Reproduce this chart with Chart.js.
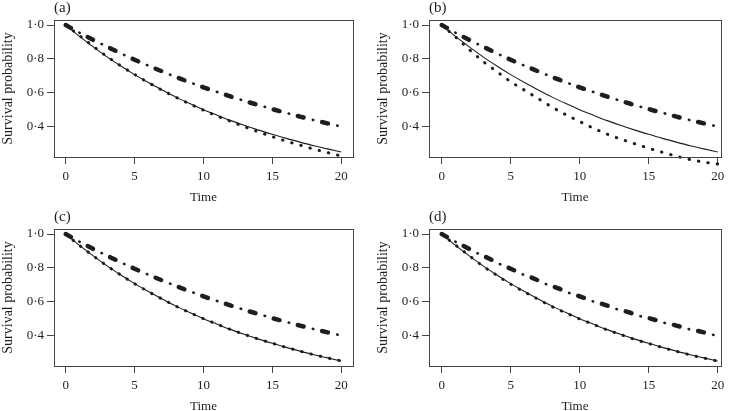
<!DOCTYPE html>
<html>
<head>
<meta charset="utf-8">
<script src="https://cdn.jsdelivr.net/npm/chart.js@4.4.0/dist/chart.umd.min.js"></script>
<style>
  html, body { margin: 0; padding: 0; background: #fff; overflow: hidden; width: 730px; height: 411px; }
  .panel { position: absolute; }
</style>
</head>
<body>
<script>
// ---------- data ----------
const time = [0,1,2,3,4,5,6,7,8,9,10,11,12,13,14,15,16,17,18,19,20];
const xTicks = [0,5,10,15,20];
const yTicks = [0.4,0.6,0.8,1.0];
const yTickLabels = ['0·4','0·6','0·8','1·0'];
const panelLabels = ['(a)','(b)','(c)','(d)'];

// true survival curves (same in every panel)
const trueLower = [1.000,0.933,0.871,0.812,0.758,0.707,0.660,0.616,0.574,0.536,0.500,0.467,0.435,0.406,0.379,0.354,0.330,0.308,0.287,0.268,0.250];
const trueUpper = [1.000,0.955,0.912,0.872,0.833,0.795,0.760,0.726,0.693,0.662,0.632,0.604,0.577,0.551,0.527,0.503,0.481,0.459,0.438,0.419,0.400];

// estimated curves, one per panel
const estLowerA = [1.000,0.938,0.874,0.814,0.759,0.708,0.660,0.615,0.573,0.534,0.497,0.462,0.430,0.398,0.368,0.340,0.314,0.290,0.267,0.246,0.226];
const estLowerB = [1.000,0.930,0.855,0.785,0.725,0.665,0.615,0.565,0.515,0.470,0.430,0.390,0.355,0.325,0.298,0.272,0.248,0.225,0.205,0.190,0.178];
const estLowerC = [1.000,0.933,0.871,0.812,0.758,0.707,0.660,0.616,0.574,0.536,0.500,0.467,0.435,0.406,0.379,0.354,0.330,0.308,0.287,0.268,0.250];
const estLowerD = [1.000,0.935,0.872,0.810,0.756,0.704,0.658,0.614,0.571,0.534,0.498,0.466,0.433,0.405,0.377,0.353,0.329,0.307,0.286,0.267,0.249];
const estUpperA = [1.000,0.955,0.912,0.872,0.833,0.795,0.760,0.726,0.693,0.662,0.632,0.604,0.577,0.551,0.527,0.503,0.481,0.459,0.438,0.419,0.400];
const estUpperB = [1.000,0.955,0.912,0.872,0.833,0.795,0.760,0.726,0.693,0.662,0.632,0.604,0.577,0.551,0.527,0.503,0.481,0.459,0.438,0.419,0.400];
const estUpperC = [1.000,0.955,0.912,0.872,0.833,0.795,0.760,0.726,0.693,0.662,0.632,0.604,0.577,0.551,0.527,0.503,0.481,0.459,0.438,0.419,0.400];
const estUpperD = [1.000,0.955,0.911,0.870,0.831,0.793,0.757,0.723,0.690,0.659,0.629,0.601,0.574,0.548,0.524,0.500,0.478,0.456,0.436,0.417,0.398];

// ---------- layout ----------
const panels = [
  { label: panelLabels[0], lower: estLowerA, upper: estUpperA, left: 0,   top: 0,   width: 365, padRight: 12, xMin: -0.85, xMax: 20.85 },
  { label: panelLabels[1], lower: estLowerB, upper: estUpperB, left: 375, top: 0,   width: 355, padRight: 9,  xMin: -0.92, xMax: 20.24 },
  { label: panelLabels[2], lower: estLowerC, upper: estUpperC, left: 0,   top: 209, width: 365, padRight: 12, xMin: -0.85, xMax: 20.85 },
  { label: panelLabels[3], lower: estLowerD, upper: estUpperD, left: 375, top: 209, width: 355, padRight: 9,  xMin: -0.92, xMax: 20.24 }
];
const H = 206;
const INK = '#1e1e1e';
const SERIF = "'Liberation Serif', 'DejaVu Serif', serif";

const boxPlugin = {
  id: 'boxAndLabel',
  afterDraw(chart, args, opts) {
    const { ctx, chartArea: a } = chart;
    ctx.save();
    ctx.strokeStyle = '#444';
    ctx.lineWidth = 1;
    ctx.strokeRect(Math.round(a.left) + 0.5, Math.round(a.top) + 0.5,
                   Math.round(a.right - a.left), Math.round(a.bottom - a.top));
    ctx.fillStyle = INK;
    ctx.font = '15px ' + SERIF;
    ctx.textAlign = 'left';
    ctx.textBaseline = 'alphabetic';
    ctx.fillText(opts.text, a.left, 12);
    ctx.restore();
  }
};

function pts(ys) { return time.map((t, i) => ({ x: t, y: ys[i] })); }

panels.forEach((p) => {
  const c = document.createElement('canvas');
  c.className = 'panel';
  c.style.left = p.left + 'px';
  c.style.top = p.top + 'px';
  c.style.width = p.width + 'px';
  c.style.height = H + 'px';
  c.width = p.width; c.height = H;
  document.body.appendChild(c);

  new Chart(c, {
    type: 'line',
    data: {
      datasets: [
        { label: 'true lower', data: pts(trueLower), borderColor: INK, borderWidth: 1.1, pointRadius: 0, cubicInterpolationMode: 'monotone' },
        { label: 'estimate lower', data: pts(p.lower), borderColor: INK, borderWidth: 3, borderDash: [0.5, 9], borderCapStyle: 'round', pointRadius: 0, cubicInterpolationMode: 'monotone', clip: false },
        { label: 'true upper', data: pts(trueUpper), borderColor: INK, borderWidth: 4.5, borderDash: [6, 19], borderCapStyle: 'round', pointRadius: 0, cubicInterpolationMode: 'monotone' },
        { label: 'estimate upper', data: pts(p.upper), borderColor: INK, borderWidth: 2.6, borderDash: [0.5, 24.5], borderDashOffset: -15.5, borderCapStyle: 'round', pointRadius: 0, cubicInterpolationMode: 'monotone' }
      ]
    },
    options: {
      responsive: false,
      animation: false,
      events: [],
      layout: { padding: { left: 0, right: p.padRight, top: 20, bottom: 0 } },
      plugins: { legend: { display: false }, tooltip: { enabled: false }, boxAndLabel: { text: p.label } },
      scales: {
        x: {
          type: 'linear', min: p.xMin, max: p.xMax,
          afterBuildTicks: (s) => { s.ticks = xTicks.map(v => ({ value: v })); },
          afterFit: (s) => { s.height = H - 157; },
          ticks: { color: INK, font: { family: SERIF, size: 13 }, padding: 5, maxRotation: 0, callback: (v) => String(v) },
          grid: { drawOnChartArea: false, drawTicks: true, tickLength: 7, color: '#444' },
          border: { display: false },
          title: { display: true, text: 'Time', color: INK, font: { family: SERIF, size: 13 }, padding: { top: 0, bottom: 1 } }
        },
        y: {
          type: 'linear', min: 0.22, max: 1.03,
          afterBuildTicks: (s) => { s.ticks = yTicks.map(v => ({ value: v })); },
          afterFit: (s) => { s.width = 54; },
          ticks: { color: INK, font: { family: SERIF, size: 13 }, padding: 3,
                   callback: (v) => { const i = yTicks.findIndex(t => Math.abs(t - v) < 1e-9); return i >= 0 ? yTickLabels[i] : ''; } },
          grid: { drawOnChartArea: false, drawTicks: true, tickLength: 7, color: '#444' },
          border: { display: false },
          title: { display: true, text: 'Survival probability', color: INK, font: { family: SERIF, size: 14 }, padding: { top: 0, bottom: 0 } }
        }
      }
    },
    plugins: [boxPlugin]
  });
});
</script>
</body>
</html>
